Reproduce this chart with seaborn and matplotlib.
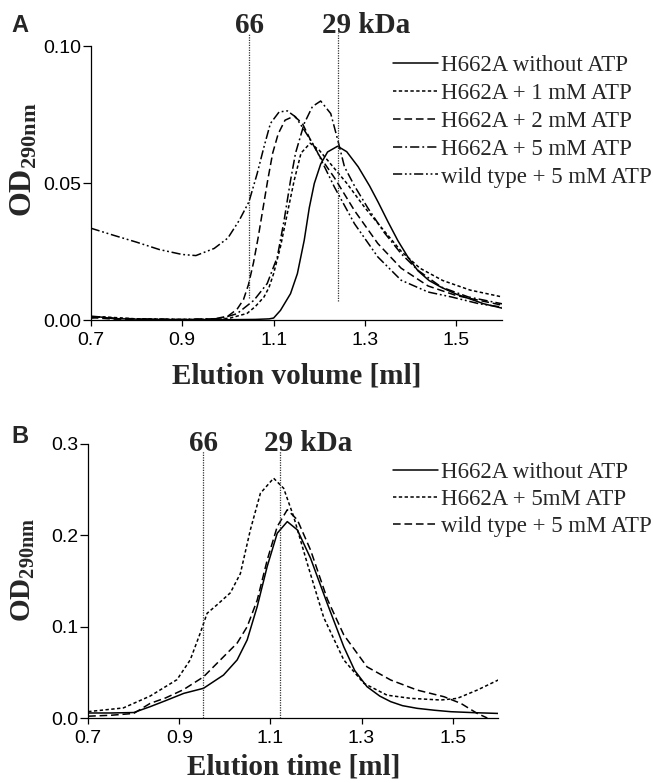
import numpy as np
import pandas as pd
import matplotlib
matplotlib.use("Agg")
import matplotlib.pyplot as plt
import seaborn as sns

# ---- panel A: OD290 vs elution volume ----
a_names = ["H662A without ATP", "H662A + 1 mM ATP", "H662A + 2 mM ATP",
           "H662A + 5 mM ATP", "wild type + 5 mM ATP"]

a_x_none = [0.70, 0.72, 0.75, 0.80, 0.90, 1.00, 1.06, 1.09, 1.10, 1.115, 1.137, 1.152,
            1.167, 1.178, 1.189, 1.203, 1.218, 1.24, 1.26, 1.285, 1.31, 1.329, 1.35,
            1.372, 1.394, 1.416, 1.44, 1.467, 1.50, 1.526, 1.56, 1.60]
a_y_none = [0.0008, 0.0012, 0.0006, 0.0004, 0.0002, 0.0002, 0.0003, 0.0005, 0.0008, 0.0036,
            0.0097, 0.017, 0.0292, 0.041, 0.0499, 0.057, 0.0614, 0.0635, 0.0615, 0.056,
            0.049, 0.043, 0.036, 0.029, 0.023, 0.018, 0.0145, 0.012, 0.0095, 0.008, 0.006,
            0.0044]

a_x_1mm = [0.70, 0.73, 0.80, 0.90, 0.98, 1.005, 1.042, 1.06, 1.079, 1.09, 1.10, 1.115,
           1.13, 1.145, 1.16, 1.18, 1.20, 1.22, 1.26, 1.30, 1.34, 1.38, 1.42, 1.47, 1.53,
           1.60]
a_y_1mm = [0.001, 0.0012, 0.0005, 0.0003, 0.0004, 0.0008, 0.0025, 0.005, 0.0085, 0.012,
           0.017, 0.0268, 0.039, 0.051, 0.061, 0.0646, 0.062, 0.058, 0.050, 0.041, 0.033,
           0.025, 0.019, 0.0145, 0.011, 0.0085]

a_x_2mm = [0.70, 0.75, 0.80, 0.90, 0.97, 1.00, 1.02, 1.034, 1.045, 1.056, 1.066, 1.076,
           1.087, 1.098, 1.11, 1.125, 1.145, 1.163, 1.181, 1.20, 1.233, 1.277, 1.328, 1.379,
           1.438, 1.50, 1.60]
a_y_2mm = [0.001, 0.0004, 0.0004, 0.0002, 0.0005, 0.0015, 0.004, 0.0075, 0.013, 0.021,
           0.030, 0.040, 0.051, 0.061, 0.068, 0.073, 0.0745, 0.0718, 0.0657, 0.060, 0.052,
           0.040, 0.028, 0.019, 0.0125, 0.009, 0.0055]

a_x_5mm = [0.70, 0.75, 0.80, 0.90, 0.984, 1.02, 1.057, 1.086, 1.108, 1.123, 1.137, 1.148,
           1.167, 1.185, 1.203, 1.225, 1.24, 1.255, 1.277, 1.306, 1.342, 1.379, 1.416,
           1.467, 1.526, 1.60]
a_y_5mm = [0.0015, 0.0008, 0.0005, 0.0003, 0.0006, 0.0024, 0.0073, 0.0134, 0.023, 0.0365,
           0.051, 0.061, 0.0718, 0.078, 0.080, 0.0754, 0.066, 0.056, 0.049, 0.041, 0.032,
           0.0243, 0.0182, 0.0121, 0.0085, 0.006]

a_x_wt = [0.70, 0.75, 0.80, 0.85, 0.90, 0.93, 0.97, 1.00, 1.025, 1.046, 1.064, 1.079,
          1.093, 1.112, 1.13, 1.148, 1.167, 1.19, 1.233, 1.277, 1.328, 1.379, 1.438, 1.489,
          1.55, 1.60]
a_y_wt = [0.0336, 0.031, 0.0285, 0.0258, 0.0240, 0.0236, 0.0262, 0.0300, 0.0365, 0.0432,
          0.0535, 0.0633, 0.0718, 0.0760, 0.0764, 0.0742, 0.0694, 0.0633, 0.0486, 0.0352,
          0.0231, 0.0146, 0.0103, 0.0085, 0.006, 0.0048]

a_marker_x = [1.047, 1.24]
a_marker_lo = [0.008, 0.007]
a_marker_hi = [0.1047, 0.1047]
a_marker_text = ["66", "29 kDa"]

# ---- panel B: OD290 vs elution time ----
b_names = ["H662A without ATP", "H662A + 5mM ATP", "wild type + 5 mM ATP"]

b_x_none = [0.70, 0.75, 0.80, 0.836, 0.87, 0.91, 0.953, 0.997, 1.027, 1.049, 1.071, 1.093,
            1.115, 1.137, 1.159, 1.188, 1.225, 1.261, 1.285, 1.312, 1.34, 1.364, 1.39,
            1.422, 1.46, 1.496, 1.55, 1.60]
b_y_none = [0.0055, 0.0055, 0.006, 0.0124, 0.019, 0.027, 0.0325, 0.047, 0.0636, 0.0855,
            0.122, 0.166, 0.2023, 0.215, 0.206, 0.175, 0.125, 0.078, 0.052, 0.0343, 0.024,
            0.0179, 0.0135, 0.0106, 0.0085, 0.0069, 0.0058, 0.005]

b_x_5mm = [0.70, 0.777, 0.836, 0.895, 0.924, 0.946, 0.961, 0.983, 1.012, 1.034, 1.056,
           1.078, 1.107, 1.129, 1.151, 1.181, 1.217, 1.261, 1.305, 1.356, 1.408, 1.474,
           1.51, 1.554, 1.60]
b_y_5mm = [0.007, 0.011, 0.024, 0.042, 0.0636, 0.093, 0.1146, 0.124, 0.137, 0.158, 0.206,
           0.246, 0.2625, 0.2515, 0.2205, 0.169, 0.110, 0.0636, 0.038, 0.025, 0.0215,
           0.0197, 0.0215, 0.0306, 0.0416]

b_x_wt = [0.70, 0.75, 0.80, 0.836, 0.87, 0.909, 0.953, 0.997, 1.027, 1.049, 1.071, 1.093,
          1.115, 1.137, 1.159, 1.188, 1.225, 1.261, 1.312, 1.364, 1.422, 1.481, 1.518,
          1.554, 1.576]
b_y_wt = [0.002, 0.003, 0.005, 0.016, 0.022, 0.031, 0.045, 0.067, 0.082, 0.100, 0.129,
          0.173, 0.2096, 0.228, 0.217, 0.184, 0.13, 0.091, 0.056, 0.0416, 0.0306, 0.0233,
          0.016, 0.005, 0.0]

b_marker_x = [0.953, 1.12]
b_marker_lo = [0.0, 0.0]
b_marker_hi = [0.292, 0.292]
b_marker_text = ["66", "29 kDa"]

x_ticks = [0.7, 0.9, 1.1, 1.3, 1.5]
a_y_ticks = [0.0, 0.05, 0.10]
b_y_ticks = [0.0, 0.1, 0.2, 0.3]


def make_df(names, xs, ys):
    parts = []
    for n, x, y in zip(names, xs, ys):
        parts.append(pd.DataFrame({"vol": x, "od": y, "sample": n}))
    return pd.concat(parts, ignore_index=True)


dfA = make_df(a_names, [a_x_none, a_x_1mm, a_x_2mm, a_x_5mm, a_x_wt],
              [a_y_none, a_y_1mm, a_y_2mm, a_y_5mm, a_y_wt])
dfB = make_df(b_names, [b_x_none, b_x_5mm, b_x_wt], [b_y_none, b_y_5mm, b_y_wt])

dash_solid = ""
dash_dot = (2.2, 1.6)
dash_dash = (5, 2.5)
dash_dashdot = (6, 2, 1.2, 2)
dash_dashdotdot = (6, 1.8, 1.2, 1.8, 1.2, 1.8)

a_dashes = dict(zip(a_names, [dash_solid, dash_dot, dash_dash, dash_dashdot, dash_dashdotdot]))
b_dashes = dict(zip(b_names, [dash_solid, dash_dot, dash_dash]))

sns.set_style("ticks")
plt.rcParams["font.family"] = ["Liberation Sans", "DejaVu Sans"]
plt.rcParams["axes.linewidth"] = 0.9
plt.rcParams["xtick.major.width"] = 0.9
plt.rcParams["ytick.major.width"] = 0.9
plt.rcParams["xtick.color"] = "black"
plt.rcParams["ytick.color"] = "black"
plt.rcParams["axes.edgecolor"] = "black"

serif = ["Liberation Serif", "DejaVu Serif"]
label_font = dict(family=serif, weight="bold", size=21)
legend_font = dict(family=serif, size=16.5)

fig = plt.figure(figsize=(6.53, 7.83), dpi=100)
axA = fig.add_axes([0.139, 0.591, 0.630, 0.350])
axB = fig.add_axes([0.135, 0.083, 0.628, 0.350])


def draw_panel(ax, df, names, dashes, y_ticks, y_fmt, ylim, mx, mlo, mhi, mtext,
               xlabel, xpad, ylab_size, ylab_y, leg_top, leg_space, letter, letter_y):
    sns.lineplot(data=df, x="vol", y="od", style="sample", style_order=names,
                 dashes=dashes, color="black", linewidth=1.1, estimator=None,
                 sort=False, ax=ax, legend=True)
    ax.vlines(mx, mlo, mhi, colors="0.2", linestyles=(0, (1, 1)), linewidth=0.9,
              clip_on=False)
    ax.text(mx[0], mhi[0], mtext[0], ha="center", va="baseline", fontdict=label_font)
    ax.text(mx[1] - 0.035, mhi[1], mtext[1], ha="left", va="baseline", fontdict=label_font)

    ax.set_xlim(0.7, 1.6)
    ax.set_ylim(*ylim)
    ax.set_xticks(x_ticks)
    ax.set_xticklabels([f"{t:.1f}" for t in x_ticks])
    ax.set_yticks(y_ticks)
    ax.set_yticklabels([y_fmt.format(t) for t in y_ticks])
    ax.tick_params(axis="x", labelsize=14, length=4.3, pad=4)
    ax.tick_params(axis="y", labelsize=14, length=6, pad=1)
    sns.despine(ax=ax)

    ax.set_xlabel(xlabel, fontdict=label_font, labelpad=xpad)
    ax.set_ylabel("OD$_{\\mathregular{290nm}}$", family=serif, weight="bold",
                  size=ylab_size)
    ax.yaxis.set_label_coords(-0.125, ylab_y)

    leg = ax.get_legend()
    handles = leg.legend_handles
    labels = [t.get_text() for t in leg.texts]
    leg.remove()
    ax.legend(handles, labels, loc="upper left", bbox_to_anchor=(0.602, leg_top),
              bbox_transform=fig.transFigure, frameon=False, handlelength=1.97,
              handletextpad=0.1, labelspacing=leg_space, borderpad=0, borderaxespad=0,
              prop=legend_font)

    fig.text(0.018, letter_y, letter, fontsize=17, fontweight="bold",
             family=["Liberation Sans", "DejaVu Sans"], va="baseline")


draw_panel(axA, dfA, a_names, a_dashes, a_y_ticks, "{:.2f}", (0, 0.1),
           a_marker_x, a_marker_lo, a_marker_hi, a_marker_text,
           "Elution volume [ml]", 10, 23, 0.585, 0.930, 0.3, "A", 1 - 32 / 783)
draw_panel(axB, dfB, b_names, b_dashes, b_y_ticks, "{:.1f}", (0, 0.3),
           b_marker_x, b_marker_lo, b_marker_hi, b_marker_text,
           "Elution time [ml]", 5, 21, 0.54, 0.410, 0.25, "B", 1 - 443 / 783)

fig.savefig("out.png", dpi=100)
